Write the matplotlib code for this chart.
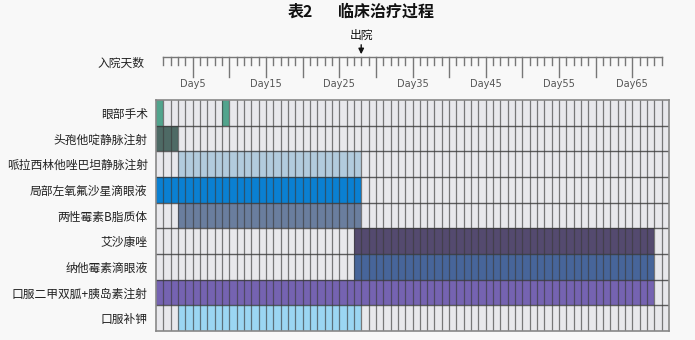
import matplotlib.pyplot as plt
from matplotlib.patches import FancyArrowPatch

plt.rcParams['font.family'] = ['Noto Sans CJK SC', 'DejaVu Sans']

# treatments, top to bottom
treatments = ['眼部手术', '头孢他啶静脉注射', '哌拉西林他唑巴坦静脉注射', '局部左氧氟沙星滴眼液',
              '两性霉素B脂质体', '艾沙康唑', '纳他霉素滴眼液', '口服二甲双胍+胰岛素注射', '口服补钾']
# (start day, duration) spans for each treatment
spans = [
    [(0, 1), (9, 1)],
    [(0, 3)],
    [(3, 25)],
    [(0, 28)],
    [(3, 25)],
    [(27, 41)],
    [(27, 41)],
    [(0, 68)],
    [(3, 25)],
]
colors = ['#52a48d', '#4e6a65', '#b2cbdd', '#0a80d2', '#6a7e9e',
          '#544a6f', '#47659a', '#7563b1', '#9bd6f3']

n_days = 70
ruler_days = list(range(1, 70))
day_labels = ['Day5', 'Day15', 'Day25', 'Day35', 'Day45', 'Day55', 'Day65']
label_days = [5, 15, 25, 35, 45, 55, 65]
discharge_day = 28

fig = plt.figure(figsize=(6.95, 3.4), dpi=100)
fig.patch.set_facecolor('#f8f8f8')

W, H = 695, 340
# main grid
ax = fig.add_axes([156 / W, (H - 331) / H, 513 / W, 231 / H])
ax.set_xlim(0, n_days)
ax.set_ylim(len(treatments), 0)
ax.add_patch(plt.Rectangle((0, 0), n_days, len(treatments), color='#e8e8ec', zorder=0))
for i, (segs, c) in enumerate(zip(spans, colors)):
    ax.broken_barh(segs, (i, 1), facecolors=c, zorder=1)
for x in range(1, n_days):
    ax.axvline(x, color='#3a3a3a', lw=0.9, alpha=0.65, zorder=2)
for y in range(1, len(treatments)):
    ax.axhline(y, color='#3a3a3a', lw=1.0, alpha=0.8, zorder=2)
ax.set_xticks([])
ax.set_yticks([i + 0.5 for i in range(len(treatments))])
ax.set_yticklabels(treatments, fontsize=8.5, color='#222222')
ax.tick_params(axis='y', length=0, pad=6)
for s in ax.spines.values():
    s.set_color('#888888')
    s.set_linewidth(1.2)

# ruler on top
ar = fig.add_axes([156 / W, (H - 95) / H, 513 / W, 65 / H])
ar.set_xlim(0, n_days)
ar.set_ylim(95, 30)
ar.axis('off')
ar.plot([ruler_days[0], ruler_days[-1]], [57, 57], color='#777777', lw=1)
for d in ruler_days:
    y2 = 77 if d % 5 == 0 else 65
    ar.plot([d, d], [57, y2], color='#777777', lw=1)
for d, lab in zip(label_days, day_labels):
    ar.text(d, 84, lab, ha='center', va='center', fontsize=7, color='#555555',
            family='DejaVu Sans')
ar.text(discharge_day, 35, '出院', ha='center', va='center', fontsize=8.5, color='#111111')
ar.add_patch(FancyArrowPatch((discharge_day, 42), (discharge_day, 57), arrowstyle='-|>',
                             mutation_scale=8, color='#111111', lw=1))

fig.text(145 / W, (H - 63) / H, '入院天数', ha='right', va='center', fontsize=8.5, color='#222222')
fig.text(300 / W, (H - 12) / H, '表2', ha='center', va='center', fontsize=11.5,
         fontweight='bold', color='#111111')
fig.text(338 / W, (H - 12) / H, '临床治疗过程', ha='left', va='center', fontsize=11.5,
         fontweight='bold', color='#111111')

fig.savefig('out.png', dpi=100, facecolor=fig.get_facecolor())
